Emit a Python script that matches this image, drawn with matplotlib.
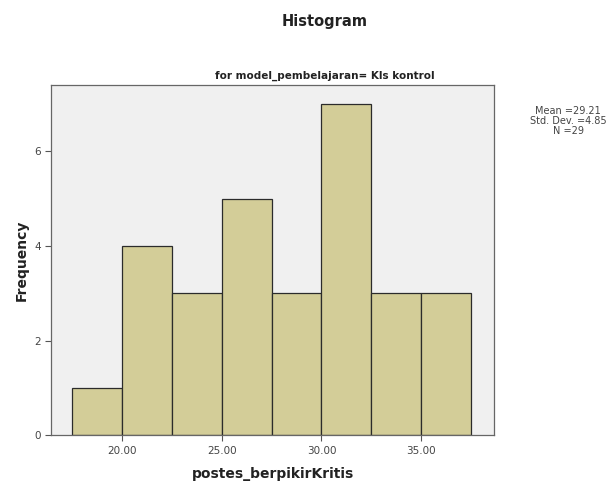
import matplotlib
matplotlib.use("Agg")
import matplotlib.pyplot as plt

# histogram data
bin_edges = [17.5, 20.0, 22.5, 25.0, 27.5, 30.0, 32.5, 35.0, 37.5]
counts = [1, 4, 3, 5, 3, 7, 3, 3]
x_ticks = [20, 25, 30, 35]
x_tick_labels = ["20.00", "25.00", "30.00", "35.00"]
y_ticks = [0, 2, 4, 6]
stats_text = "Mean =29.21\nStd. Dev. =4.85\nN =29"

fig = plt.figure(figsize=(6.13, 4.84), dpi=100)
ax = fig.add_axes([0.0832, 0.101, 0.7228, 0.723])
ax.set_facecolor("#f0f0f0")

lefts = bin_edges[:-1]
widths = [b - a for a, b in zip(bin_edges[:-1], bin_edges[1:])]
ax.bar(lefts, counts, width=widths, align="edge", color="#d3cd98",
       edgecolor="#2b2b2b", linewidth=0.9)

ax.set_xlim(16.45, 38.65)
ax.set_ylim(0, 7.4)
ax.set_xticks(x_ticks)
ax.set_xticklabels(x_tick_labels)
ax.set_yticks(y_ticks)
ax.tick_params(axis="both", direction="out", length=4, width=0.8,
               labelsize=7.5, labelcolor="#444444", color="#555555")
for s in ax.spines.values():
    s.set_color("#666666")
    s.set_linewidth(0.9)

ax.set_xlabel("postes_berpikirKritis", fontsize=10, fontweight="bold",
              color="#222222", labelpad=8)
ax.set_ylabel("Frequency", fontsize=10, fontweight="bold",
              color="#222222", labelpad=4)

fig.text(0.53, 0.955, "Histogram", ha="center", va="center",
         fontsize=10.5, fontweight="bold", color="#222222")
fig.text(0.53, 0.843, "for model_pembelajaran= Kls kontrol", ha="center",
         va="center", fontsize=7.5, fontweight="bold", color="#222222")
fig.text(0.927, 0.75, stats_text, ha="center", va="center", fontsize=7,
         color="#444444", linespacing=0.95)

fig.savefig("out.png", dpi=100)
